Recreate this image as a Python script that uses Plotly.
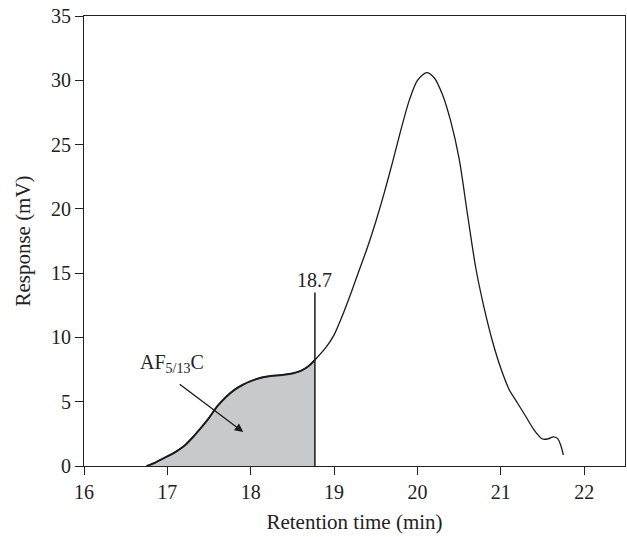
import plotly.graph_objects as go

# Chromatogram trace: retention time (min) vs detector response (mV)
time_min = [16.75, 16.85, 17.0, 17.1, 17.2, 17.3, 17.4, 17.5, 17.6, 17.7, 17.8, 17.9,
            18.0, 18.1, 18.2, 18.3, 18.4, 18.5, 18.6, 18.7, 18.77,
            18.9, 19.0, 19.1, 19.2, 19.3, 19.4, 19.5, 19.6, 19.7, 19.8, 19.9,
            20.0, 20.11, 20.2, 20.3, 20.4, 20.5, 20.6, 20.7, 20.8, 20.9,
            21.0, 21.1, 21.2, 21.3, 21.4, 21.5, 21.57, 21.63, 21.68, 21.72, 21.75]
response_mv = [0.0, 0.25, 0.75, 1.1, 1.55, 2.2, 2.95, 3.75, 4.65, 5.35, 5.9, 6.3,
               6.6, 6.82, 6.96, 7.04, 7.1, 7.2, 7.4, 7.8, 8.25,
               9.2, 10.2, 11.7, 13.4, 15.2, 17.0, 19.0, 21.2, 23.6, 26.1, 28.4,
               30.0, 30.6, 30.2, 28.9, 26.8, 23.9, 19.6, 15.4, 12.3, 9.7,
               7.6, 5.95, 4.9, 3.85, 2.8, 2.1, 2.12, 2.27, 2.15, 1.6, 0.86]

# Fraction cut point and labels
cut_time = 18.77
cut_label = "18.7"
cut_line_top = 13.5
cut_label_y = 14.5
fraction_label = "AF<sub>5/13</sub>C"
fraction_text_pos = (17.06, 8.0)
fraction_arrow_tail = (17.13, 6.45)
fraction_arrow_head = (17.91, 2.64)

x_ticks = [16, 17, 18, 19, 20, 21, 22]
y_ticks = [0, 5, 10, 15, 20, 25, 30, 35]

FONT = "Liberation Serif"
INK = "#222"

fill_x = [t for t in time_min if t <= cut_time]
fill_y = response_mv[:len(fill_x)]

fig = go.Figure()

# Shaded fraction under the curve up to the cut point
fig.add_trace(go.Scatter(
    x=fill_x, y=fill_y, mode="lines", fill="tozeroy",
    fillcolor="#c8c9cb", line=dict(color="#2a2a2a", width=2, shape="spline", smoothing=0.8),
    hoverinfo="skip", showlegend=False))

# Full chromatogram line
fig.add_trace(go.Scatter(
    x=time_min, y=response_mv, mode="lines",
    line=dict(color="#1a1a1a", width=1.3, shape="spline", smoothing=0.8),
    showlegend=False))

# Vertical cut line
fig.add_shape(type="line", xref="x", yref="y",
              x0=cut_time, x1=cut_time, y0=0, y1=cut_line_top,
              line=dict(color="#1a1a1a", width=1.5))

fig.add_annotation(x=cut_time, y=cut_label_y, text=cut_label, showarrow=False,
                   font=dict(family=FONT, size=20, color=INK))

fig.add_annotation(x=fraction_text_pos[0], y=fraction_text_pos[1], text=fraction_label,
                   showarrow=False, font=dict(family=FONT, size=20, color=INK))

fig.add_annotation(x=fraction_arrow_head[0], y=fraction_arrow_head[1], text="",
                   ax=fraction_arrow_tail[0], ay=fraction_arrow_tail[1],
                   axref="x", ayref="y", showarrow=True,
                   arrowhead=2, arrowsize=1.3, arrowwidth=1.3, arrowcolor="#1a1a1a")

axis_common = dict(
    showline=True, linecolor=INK, linewidth=1.2, mirror=True,
    ticks="outside", ticklen=8, tickwidth=1.2, tickcolor=INK,
    showgrid=False, zeroline=False,
    tickfont=dict(family=FONT, size=20, color=INK),
)

fig.update_xaxes(range=[16, 22.49], tickvals=x_ticks,
                 title=dict(text="Retention time (min)", font=dict(family=FONT, size=21, color=INK), standoff=12),
                 **axis_common)
fig.update_yaxes(range=[0, 35], tickvals=y_ticks,
                 title=dict(text="Response (mV)", font=dict(family=FONT, size=21, color=INK), standoff=14),
                 **axis_common)

fig.update_layout(
    width=627, height=537,
    margin=dict(l=84, r=2, t=16, b=71),
    plot_bgcolor="white", paper_bgcolor="white",
    showlegend=False,
)

fig.write_html("out.html")
